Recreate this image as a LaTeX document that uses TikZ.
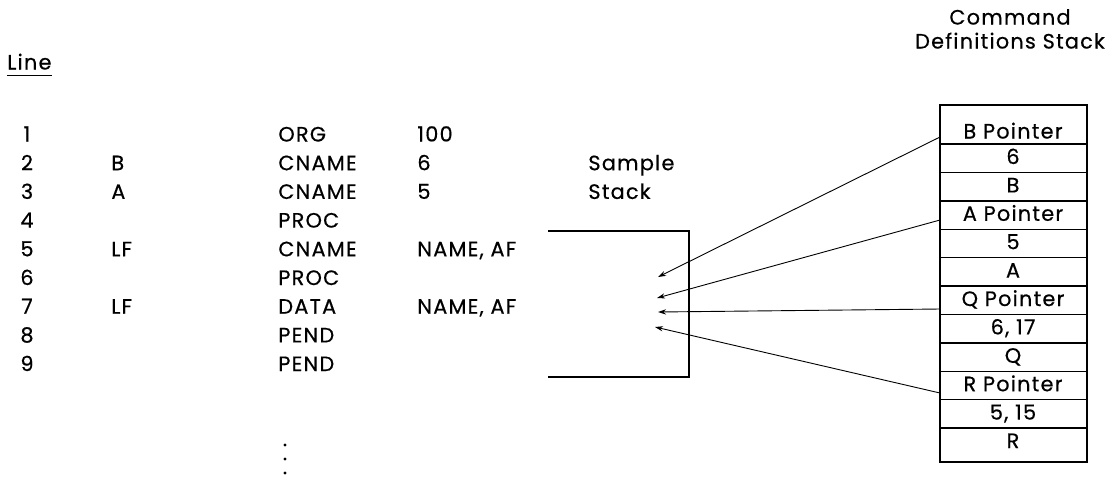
\documentclass[tikz,border=0pt]{standalone}
\usepackage{fontspec}
\setmainfont{Poppins}[LetterSpace=6, FakeBold=0.5]
\usetikzlibrary{arrows.meta}

\tikzset{
  texto/.style={anchor=base west, inner sep=0pt, font=\fontsize{10.4}{12}\selectfont},
  centrado/.style={texto, anchor=base},
  flecha/.style={-{Stealth[length=4pt,width=2.6pt]}, line width=0.45pt},
}

\begin{document}
\begin{tikzpicture}[x=0.5pt,y=-0.5pt]
        \useasboundingbox (0,0) rectangle (1108,478);

        % Encabezado de la columna de lineas, subrayado.
        \node[texto] (line) at (7,69.5) {Line};
        \draw[line width=0.6pt] ([yshift=-2.8pt]line.base west) -- ([yshift=-2.8pt]line.base east);

        % Listado del programa: numero, etiqueta, operacion y operando.
        \foreach \n/\e/\op/\arg [count=\i] in {1//ORG/100, 2/B/CNAME/6, 3/A/CNAME/5,
            4//PROC/, 5/LF/CNAME/{NAME, AF}, 6//PROC/, 7/LF/DATA/{NAME, AF}, 8//PEND/, 9//PEND/}{
          \pgfmathsetmacro\yb{141.5+28.7*(\i-1)}
          \node[centrado] (num\i) at (27,\yb) {\n};
          \node[texto] (etq\i) at (111,\yb) {\e};
          \node[texto] (op\i) at (278,\yb) {\op};
          \node[texto] (arg\i) at (417,\yb) {\arg};
        }

        % Rotulo de la pila de ejemplo y su corchete.
        \node[texto] (sample) at (588,170.2) {Sample};
        \node[texto] (stack) at (588,198.9) {Stack};
        \coordinate (m1) at (548,231);
        \coordinate (m2) at (689,231);
        \coordinate (m3) at (689,377);
        \coordinate (m4) at (548,377);
        \draw[line width=0.8pt] (m1) -- (m2) -- (m3) -- (m4);

        % Puntos suspensivos bajo el listado.
        \foreach \y in {445,459,473}
          \fill (285,\y) circle[radius=0.8pt];

        % Titulo y pila de definiciones de comandos.
        \node[centrado] (tit1) at (1010,24.5) {Command};
        \node[centrado] (tit2) at (1010,48.5) {Definitions Stack};
        \draw[line width=1pt] (940,105) rectangle (1087,462);
        \foreach \k in {0,...,10}
          \draw[line width=0.7pt] (940,144+28.4*\k) -- (1087,144+28.4*\k);
        \node[centrado] (c1) at (1013,138.5) {B Pointer};
        \foreach \t [count=\k] in {6, B, A Pointer, 5, A, Q Pointer, {6, 17}, Q, R Pointer, {5, 15}, R}{
          \pgfmathsetmacro\yc{144+28.4*(\k-1)+20}
          \node[centrado] (c\k x) at (1013,\yc) {\t};
        }

        % Punteros desde la pila hacia la pila de ejemplo.
        \coordinate (bp) at (940,137);
        \coordinate (ap) at (940,220);
        \coordinate (qp) at (940,309);
        \coordinate (rp) at (940,393);
        \coordinate (t1) at (658,277);
        \coordinate (t2) at (657,298);
        \coordinate (t3) at (658,312);
        \coordinate (t4) at (655,327);
        \draw[flecha] (bp) -- (t1);
        \draw[flecha] (ap) -- (t2);
        \draw[flecha] (qp) -- (t3);
        \draw[flecha] (rp) -- (t4);
\end{tikzpicture}
\end{document}
